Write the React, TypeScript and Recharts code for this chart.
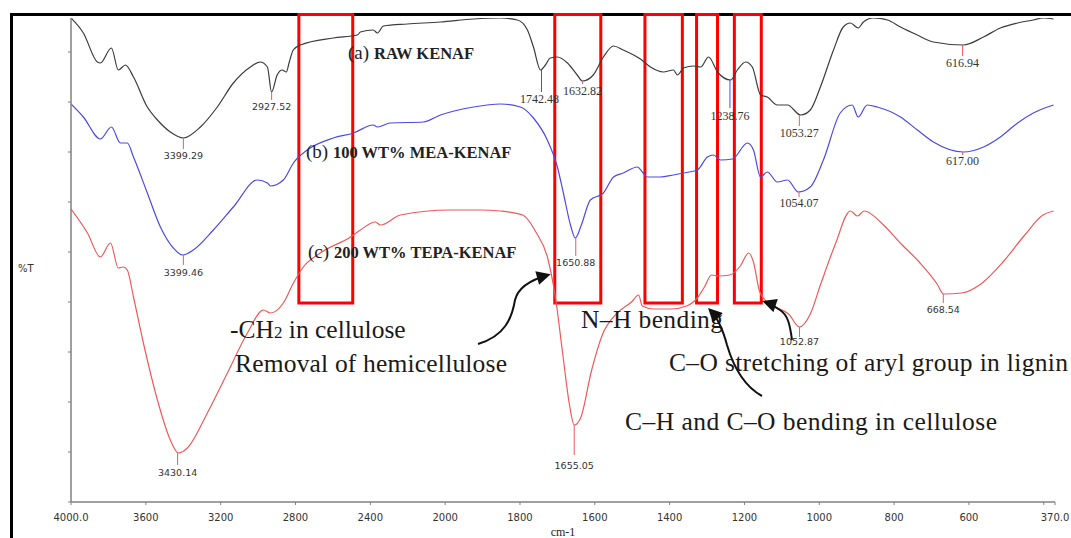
import React from "react";
import {
  ComposedChart,
  Line,
  Scatter,
  XAxis,
  YAxis,
  ReferenceArea,
} from "recharts";

// spectra: wavenumber (cm-1) and %T
const rawWn = [4000, 3934, 3859, 3843, 3784, 3747, 3709, 3666, 3592, 3538, 3469, 3399, 3308, 3218, 3132, 3041, 2988, 2950, 2928, 2898, 2871, 2849, 2833, 2812, 2774, 2598, 2469, 2453, 2384, 2362, 2330, 2202, 2025, 1924, 1852, 1807, 1780, 1764, 1745, 1732, 1719, 1700, 1673, 1647, 1633, 1604, 1577, 1550, 1524, 1478, 1451, 1417, 1390, 1379, 1363, 1336, 1317, 1296, 1272, 1237, 1219, 1197, 1179, 1157, 1139, 1112, 1085, 1050, 1024, 997, 962, 936, 917, 896, 882, 856, 818, 783, 738, 695, 615, 561, 516, 470, 428, 401, 374];
const rawT = [96.8, 93.8, 88.0, 87.8, 90.8, 86.4, 87.4, 85.0, 79.0, 76.4, 74.0, 72.8, 75.0, 79.0, 83.8, 87.0, 88.0, 87.0, 82.0, 85.4, 86.4, 86.0, 88.0, 90.4, 91.4, 92.8, 93.4, 94.0, 94.4, 93.8, 95.2, 95.6, 96.0, 96.6, 96.8, 96.4, 94.4, 91.0, 86.4, 87.4, 88.8, 89.0, 87.8, 85.4, 84.2, 85.4, 89.0, 91.2, 90.4, 88.6, 87.0, 86.0, 86.4, 85.4, 86.8, 87.2, 87.0, 89.0, 86.0, 84.4, 86.4, 88.0, 87.0, 81.4, 81.0, 79.4, 79.4, 77.4, 78.4, 83.0, 90.4, 95.0, 95.8, 94.8, 96.0, 96.8, 96.4, 95.0, 93.4, 92.0, 91.4, 93.0, 94.8, 95.8, 96.4, 96.8, 96.6];

const meaWn = [4000, 3934, 3843, 3784, 3736, 3699, 3666, 3592, 3522, 3453, 3404, 3346, 3239, 3132, 3004, 2950, 2934, 2865, 2811, 2737, 2598, 2490, 2384, 2362, 2293, 2116, 2025, 1924, 1852, 1799, 1764, 1727, 1700, 1684, 1665, 1652, 1636, 1612, 1577, 1550, 1524, 1486, 1473, 1460, 1425, 1390, 1363, 1326, 1299, 1283, 1264, 1232, 1192, 1176, 1157, 1139, 1112, 1085, 1056, 1024, 989, 944, 912, 896, 872, 845, 783, 738, 695, 615, 561, 516, 470, 428, 374];
const meaT = [79.6, 77.0, 72.6, 75.0, 71.8, 71.8, 69.0, 61.8, 55.0, 50.8, 49.4, 50.4, 54.4, 59.0, 64.4, 63.8, 63.2, 64.4, 67.8, 70.4, 72.8, 73.8, 75.4, 75.0, 75.8, 76.0, 77.4, 79.0, 79.6, 79.0, 76.8, 72.4, 67.0, 61.8, 55.4, 52.8, 55.4, 60.4, 61.8, 65.0, 65.8, 67.0, 66.0, 65.0, 65.0, 65.4, 65.8, 66.4, 69.0, 69.4, 68.4, 68.6, 71.8, 70.4, 65.0, 66.0, 64.0, 64.4, 62.0, 63.0, 68.4, 77.8, 79.4, 77.0, 79.4, 79.0, 77.0, 74.4, 72.0, 70.0, 71.0, 73.0, 75.8, 77.8, 79.4];

const tepaWn = [4000, 3912, 3843, 3789, 3747, 3720, 3699, 3666, 3613, 3538, 3469, 3426, 3378, 3271, 3164, 3057, 2971, 2934, 2865, 2811, 2758, 2667, 2506, 2453, 2373, 2346, 2239, 1986, 1906, 1852, 1793, 1756, 1726, 1705, 1686, 1668, 1655, 1638, 1609, 1580, 1540, 1502, 1483, 1473, 1443, 1395, 1355, 1326, 1307, 1288, 1270, 1240, 1211, 1189, 1176, 1160, 1147, 1133, 1112, 1082, 1053, 1024, 997, 957, 917, 898, 880, 831, 781, 733, 685, 668, 619, 568, 509, 453, 402, 374];
const tepaT = [58.6, 53.8, 49.0, 51.8, 46.8, 47.0, 46.4, 41.0, 31.8, 20.4, 12.4, 9.8, 10.8, 17.8, 25.8, 33.8, 38.4, 37.8, 39.8, 43.8, 47.0, 49.8, 53.0, 54.4, 56.0, 55.4, 57.4, 58.4, 58.4, 58.2, 57.4, 53.8, 48.8, 40.8, 29.8, 19.6, 15.4, 16.8, 26.2, 33.4, 37.8, 40.0, 41.4, 39.2, 38.6, 38.6, 39.2, 40.8, 43.0, 45.4, 45.2, 45.4, 47.2, 49.8, 48.0, 42.2, 40.6, 39.6, 38.8, 37.6, 35.0, 37.6, 43.4, 51.6, 58.2, 57.2, 58.2, 55.6, 51.6, 48.0, 43.6, 41.6, 41.8, 43.6, 48.0, 53.2, 57.4, 58.2];

// picked peaks
const rawPeakWn = [3399.29, 2927.52, 1742.48, 1632.82, 1238.76, 1053.27, 616.94];
const rawPeakT = [72.8, 82.0, 86.4, 84.2, 84.4, 77.4, 91.4];
const meaPeakWn = [3399.46, 1650.88, 1054.07, 617.0];
const meaPeakT = [49.4, 52.8, 62.0, 70.0];
const tepaPeakWn = [3430.14, 1655.05, 1052.87, 668.54];
const tepaPeakT = [9.8, 15.4, 35.0, 41.6];

const xTickWn = [4000, 3600, 3200, 2800, 2400, 2000, 1800, 1600, 1400, 1200, 1000, 800, 600, 400, 370];
const xTickLabels = ["4000.0", "3600", "3200", "2800", "2400", "2000", "1800", "1600", "1400", "1200", "1000", "800", "600", "", "370.0"];
const yTicks = [0, 10, 20, 30, 40, 50, 60, 70, 80, 90];

// highlighted bands [from, to] in cm-1
const bands = [
  [2782, 2494],
  [1707, 1584],
  [1466, 1366],
  [1328, 1272],
  [1227, 1155],
];
const bandTop = 97.5;
const bandBottom = 39.8;

// 4000-2000 is drawn at half the scale of 2000-370
const toPos = (wn: number) => (wn >= 2000 ? (4000 - wn) / 2 : 3000 - wn);

const series = (wn: number[], t: number[]) => wn.map((w, i) => ({ pos: toPos(w), t: t[i] }));
const peaks = (wn: number[], t: number[]) =>
  wn.map((w, i) => ({ pos: toPos(w), t: t[i], label: w.toFixed(2) }));

const rawData = series(rawWn, rawT);
const meaData = series(meaWn, meaT);
const tepaData = series(tepaWn, tepaT);
const xTicks = xTickWn.map(toPos);

const BLUE = "#4b4be4";
const RED = "#ee5a5a";
const AXIS = "#808080";

const peakStyle: Record<string, { len: number; dy: number; dx?: number; color?: string; serif?: boolean }> = {
  "3399.29": { len: 11, dy: 21 },
  "2927.52": { len: 8, dy: 18 },
  "1742.48": { len: 22, dy: 33, dx: -2, color: BLUE, serif: true },
  "1632.82": { len: 3, dy: 14, serif: true },
  "1238.76": { len: 28, dy: 40, color: BLUE, serif: true },
  "1053.27": { len: 11, dy: 22, serif: true },
  "616.94": { len: 11, dy: 22, serif: true },
  "3399.46": { len: 10, dy: 21 },
  "1650.88": { len: 18, dy: 28 },
  "1054.07": { len: 5, dy: 15, serif: true },
  "617.00": { len: 3, dy: 13, serif: true },
  "3430.14": { len: 12, dy: 23 },
  "1655.05": { len: 30, dy: 44 },
  "1052.87": { len: 10, dy: 18 },
  "668.54": { len: 9, dy: 19 },
};

const PeakMark = (props: any) => {
  const { cx, cy, payload } = props;
  if (cx == null || cy == null) return <g />;
  const s = peakStyle[payload.label] || { len: 8, dy: 18 };
  return (
    <g>
      <line x1={cx} x2={cx} y1={cy} y2={cy + s.len} stroke={s.color || RED} strokeWidth={1} />
      <text
        x={cx + (s.dx || 0)}
        y={cy + s.dy}
        textAnchor="middle"
        fontSize={s.serif ? 12 : 9.5}
        fontFamily={s.serif ? "Liberation Serif" : "DejaVu Sans"}
        fill="#333"
      >
        {payload.label}
      </text>
    </g>
  );
};

const serif = "Liberation Serif";

const App: React.FC = () => {
  return (
    <div style={{ position: "absolute", left: 0, top: 0, width: 1071, height: 538, overflow: "hidden", background: "#fff" }}>
      <div
        style={{
          position: "absolute",
          left: 10,
          top: 13,
          width: 1200,
          height: 600,
          borderLeft: "3px solid #000",
          borderTop: "3px solid #000",
        }}
      />
      <div style={{ position: "absolute", left: 0, top: 0 }}>
        <ComposedChart width={1071} height={538} margin={{ top: 18, right: 16, bottom: 6, left: 11 }}>
          <XAxis
            type="number"
            dataKey="pos"
            domain={[0, 2630]}
            ticks={xTicks}
            interval={0}
            allowDataOverflow
            tickFormatter={(v: number) => xTickLabels[xTicks.indexOf(v)] ?? ""}
            tickSize={3}
            tickMargin={9}
            height={30}
            axisLine={{ stroke: AXIS, strokeWidth: 1.5 }}
            tickLine={{ stroke: AXIS }}
            tick={{ fill: "#333", fontSize: 10, fontFamily: "DejaVu Sans" }}
            label={{ value: "cm-1", position: "insideBottom", offset: -4, fill: "#222", fontSize: 12, fontFamily: serif }}
          />
          <YAxis
            type="number"
            dataKey="t"
            domain={[0, 96.8]}
            ticks={yTicks}
            allowDataOverflow
            tickFormatter={() => ""}
            tickSize={3}
            width={60}
            axisLine={{ stroke: AXIS, strokeWidth: 1.5 }}
            tickLine={{ stroke: AXIS }}
          />
          {bands.map(([a, b], i) => (
            <ReferenceArea
              key={i}
              x1={toPos(a)}
              x2={toPos(b)}
              y1={bandBottom}
              y2={bandTop}
              ifOverflow="visible"
              fill="none"
              fillOpacity={0}
              stroke="#ff0000"
              strokeWidth={3}
            />
          ))}
          <Line data={rawData} dataKey="t" type="monotone" stroke="#3c3c3c" strokeWidth={1.2} dot={false} isAnimationActive={false} />
          <Line data={meaData} dataKey="t" type="monotone" stroke={BLUE} strokeWidth={1.2} dot={false} isAnimationActive={false} />
          <Line data={tepaData} dataKey="t" type="monotone" stroke={RED} strokeWidth={1.2} dot={false} isAnimationActive={false} />
          <Scatter data={peaks(rawPeakWn, rawPeakT)} shape={PeakMark} isAnimationActive={false} />
          <Scatter data={peaks(meaPeakWn, meaPeakT)} shape={PeakMark} isAnimationActive={false} />
          <Scatter data={peaks(tepaPeakWn, tepaPeakT)} shape={PeakMark} isAnimationActive={false} />
        </ComposedChart>
      </div>
      <svg width={1071} height={538} style={{ position: "absolute", left: 0, top: 0, pointerEvents: "none" }}>
        <defs>
          <marker id="head" viewBox="0 0 10 10" refX="8" refY="5" markerWidth="16" markerHeight="14" markerUnits="userSpaceOnUse" orient="auto">
            <path d="M0,0 L10,5 L0,10 z" fill="#111" />
          </marker>
        </defs>
        <text x={18} y={272} fontSize={10} fontFamily="DejaVu Sans" fill="#333">%T</text>

        <text x={348} y={59} fontFamily={serif} fontSize={19} fill="#222">(a)</text>
        <text x={374} y={59} fontFamily={serif} fontWeight="bold" fontSize={16.5} fill="#222">RAW KENAF</text>
        <text x={306} y={158} fontFamily={serif} fontSize={19} fill="#222">(b)</text>
        <text x={333} y={158} fontFamily={serif} fontWeight="bold" fontSize={16.5} fill="#222">100 WT% MEA-KENAF</text>
        <text x={308} y={258} fontFamily={serif} fontSize={19} fill="#222">(c)</text>
        <text x={334} y={258} fontFamily={serif} fontWeight="bold" fontSize={16.5} fill="#222">200 WT% TEPA-KENAF</text>

        <text x={230} y={338} fontFamily={serif} fontSize={25.5} fill="#1a1a1a">
          -CH<tspan fontSize={17}>2</tspan> in cellulose
        </text>
        <text x={235} y={372} fontFamily={serif} fontSize={25.5} fill="#1a1a1a" textLength={272}>Removal of hemicellulose</text>
        <text x={581} y={328} fontFamily={serif} fontSize={25.5} fill="#1a1a1a" textLength={142}>N–H bending</text>
        <text x={669} y={371} fontFamily={serif} fontSize={25.5} fill="#1a1a1a" textLength={399}>C–O stretching of aryl group in lignin</text>
        <text x={625} y={430} fontFamily={serif} fontSize={25.5} fill="#1a1a1a" textLength={372}>C–H and C–O bending in cellulose</text>

        <path d="M 478 344 C 505 336, 512 318, 515 300 C 518 288, 530 280, 548 275" fill="none" stroke="#111" strokeWidth={2} markerEnd="url(#head)" />
        <path d="M 762 396 C 742 385, 732 362, 727 345 C 723 330, 718 318, 710 310" fill="none" stroke="#111" strokeWidth={2} markerEnd="url(#head)" />
        <path d="M 792 340 C 790 325, 788 315, 780 310 C 775 306, 771 304, 765 302" fill="none" stroke="#111" strokeWidth={2} markerEnd="url(#head)" />
      </svg>
    </div>
  );
};

export default App;
